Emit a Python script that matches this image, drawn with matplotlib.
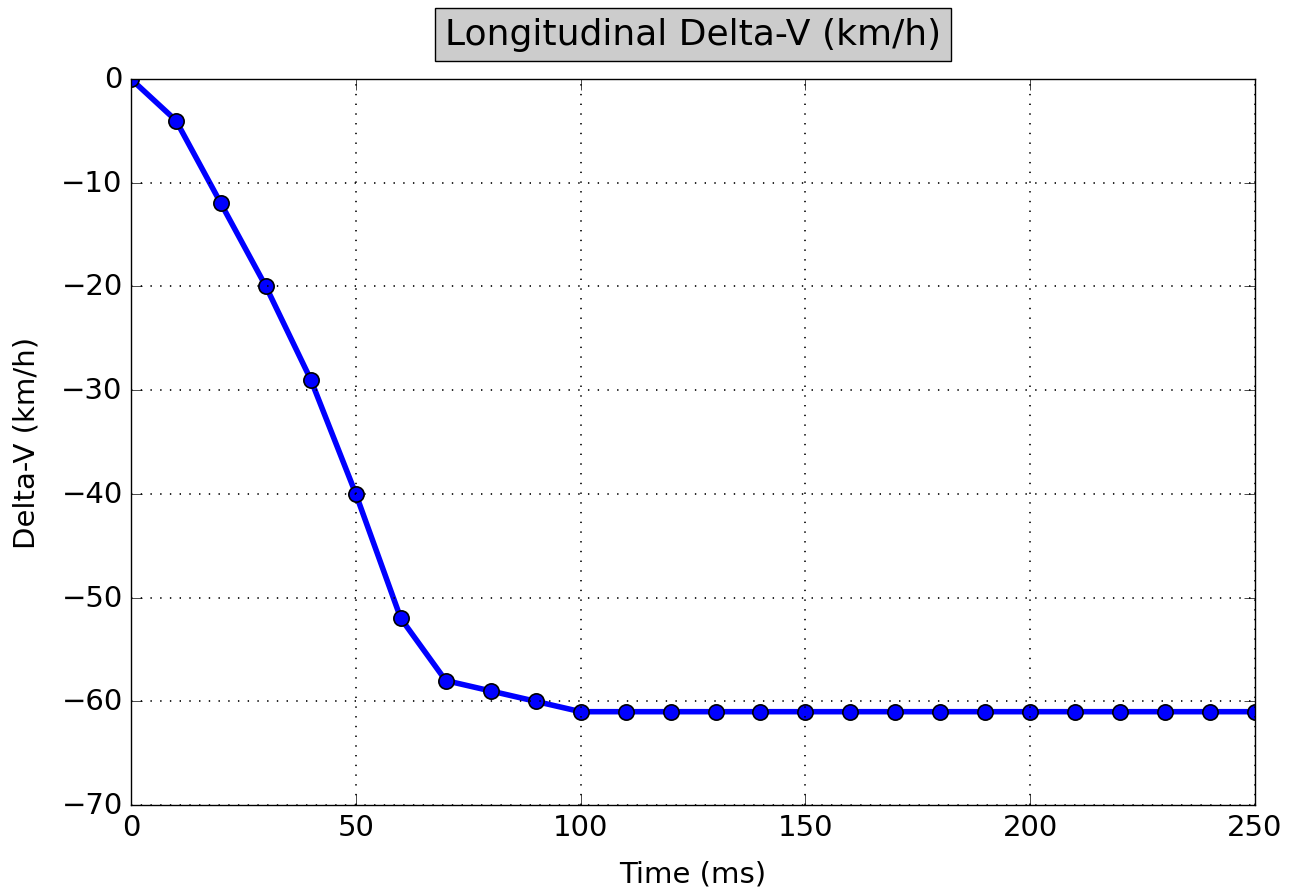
import matplotlib
matplotlib.use("Agg")
import matplotlib.pyplot as plt

# data
time_ms = [0, 10, 20, 30, 40, 50, 60, 70, 80, 90, 100, 110, 120, 130, 140, 150,
           160, 170, 180, 190, 200, 210, 220, 230, 240, 250]
delta_v = [0, -4, -12, -20, -29, -40, -52, -58, -59, -60, -61, -61, -61, -61, -61,
           -61, -61, -61, -61, -61, -61, -61, -61, -61, -61, -61]

plt.style.use("classic")
plt.rcParams["font.family"] = "DejaVu Sans"

fig = plt.figure(figsize=(12.92, 8.95), dpi=100, facecolor="white")
ax = fig.add_axes([0.1014, 0.0994, 0.87, 0.8112])

ax.plot(time_ms, delta_v, color="blue", linewidth=4, marker="o",
        markersize=11, markerfacecolor="blue", markeredgecolor="black",
        markeredgewidth=1.2)

ax.set_xlim(0, 250)
ax.set_ylim(-70, 0)
ax.grid(True, color="black", linestyle=(0, (1, 6)), linewidth=1.2)
ax.tick_params(labelsize=21, direction="in", length=8, pad=6)
ax.set_xlabel("Time (ms)", fontsize=21, labelpad=13)
ax.set_ylabel("Delta-V (km/h)", fontsize=21, labelpad=15)
ax.set_title("Longitudinal Delta-V (km/h)", fontsize=26, pad=25,
             bbox=dict(facecolor="0.8", edgecolor="black", pad=7))

fig.savefig("out.png", dpi=100, facecolor="white")
